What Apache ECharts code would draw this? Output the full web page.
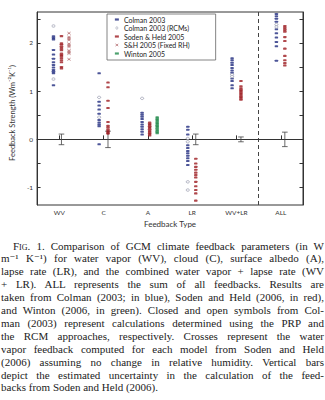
<!DOCTYPE html>
<html>
<head>
<meta charset="utf-8">
<script src="https://cdn.jsdelivr.net/npm/echarts@6/dist/echarts.min.js"></script>
<style>
html,body{margin:0;padding:0;background:#fff;}
#wrap{position:relative;width:325px;height:400px;overflow:hidden;}
#chart{position:absolute;left:0;top:0;width:325px;height:400px;}
#cap{position:absolute;left:1px;top:239.5px;width:323px;font-family:'Liberation Serif','DejaVu Serif',serif;font-size:11px;line-height:12.9px;color:#222;}
#cap .l{text-align:justify;text-align-last:justify;}
#cap .last{text-align-last:left;}
#cap .first{padding-left:12px;}
#cap .sc{font-variant:small-caps;}
</style>
</head>
<body>
<div id="wrap">
<div id="chart"></div>
<div id="cap">
<div class="l first"><span class="sc">Fig</span>. 1. Comparison of GCM climate feedback parameters (in W</div>
<div class="l">m⁻¹ K⁻¹) for water vapor (WV), cloud (C), surface albedo (A),</div>
<div class="l">lapse rate (LR), and the combined water vapor + lapse rate (WV</div>
<div class="l">+ LR). ALL represents the sum of all feedbacks. Results are</div>
<div class="l">taken from Colman (2003; in blue), Soden and Held (2006, in red),</div>
<div class="l">and Winton (2006, in green). Closed and open symbols from Col-</div>
<div class="l">man (2003) represent calculations determined using the PRP and</div>
<div class="l">the RCM approaches, respectively. Crosses represent the water</div>
<div class="l">vapor feedback computed for each model from Soden and Held</div>
<div class="l">(2006) assuming no change in relative humidity. Vertical bars</div>
<div class="l">depict the estimated uncertainty in the calculation of the feed-</div>
<div class="l last">backs from Soden and Held (2006).</div>
</div>
</div>
<script>
// ---- data ----
const categories = ['WV', 'C', 'A', 'LR', 'WV+LR', 'ALL'];
const yLabelValues = [-1, 0, 1, 2];
const yTickValues = [-1, -0.5, 0, 0.5, 1, 1.5, 2, 2.5];

// values per category (WV, C, A, LR, WV+LR, ALL)
const colman2003 = [
  [2.14, 2.10, 2.07, 1.85, 1.76, 1.67, 1.60, 1.54, 1.49, 1.44, 1.40, 1.37, 1.12],
  [1.37, 0.78, 0.70, 0.62, 0.53, 0.40, 0.35, 0.31, 0.27, -0.10],
  [0.55, 0.51, 0.47, 0.42, 0.36, 0.31, 0.26, 0.21, 0.16, 0.10],
  [0.26, 0.20, 0.10, -0.12, -0.18, -0.24, -0.29, -0.34, -0.39, -0.45, -0.53],
  [1.68, 1.64, 1.59, 1.54, 1.48, 1.43, 1.38, 1.26, 1.21, 1.12, 1.06],
  [2.60, 2.55, 2.50, 2.44, 2.28, 2.20, 2.11, 2.02, 1.93, 1.63]
];
const colman2003RCMs = [
  [2.35, 1.25],
  [0.87, 0.46],
  [0.85],
  [0.02, -0.05, -0.88, -1.05],
  [1.34, 1.30],
  [2.38, 2.33]
];
const sodenHeld2005 = [
  [2.14, 1.99, 1.96, 1.92, 1.89, 1.85, 1.78, 1.75, 1.72, 1.68, 1.64, 1.60, 1.50, 1.47],
  [1.18, 1.08, 0.80, 0.65, 0.36, 0.28, 0.24, 0.20, 0.17, 0.14, 0.12],
  [0.35, 0.32, 0.29, 0.26, 0.23, 0.20, 0.17, 0.14, 0.11, 0.08],
  [-0.40, -0.50, -0.57, -0.63, -0.69, -0.74, -0.79, -0.88, -0.97, -1.05, -1.12, -1.27],
  [1.21, 1.10, 1.06, 1.03, 1.00, 0.97, 0.94, 0.91, 0.88, 0.85, 0.82],
  [2.35, 2.31, 2.27, 2.23, 2.12, 2.04, 1.88, 1.73, 1.64, 1.58, 1.53]
];
const shFixedRH = [
  [2.20, 2.12, 2.09, 2.06, 1.98, 1.95, 1.92, 1.84, 1.81, 1.78, 1.66],
  [], [], [], [], []
];
const winton2005 = [
  [], [],
  [0.46, 0.43, 0.40, 0.37, 0.34, 0.31, 0.28, 0.25, 0.22, 0.19, 0.16, 0.13],
  [], [], []
];
const uncertainty = [0.11, 0.17, null, 0.11, 0.05, 0.15];

// ---- layout offsets (horizontal position of each column inside a category) ----
const offColman = [-0.13, -0.10, -0.13, -0.10, -0.10, -0.10];
const offSoden  = [0.05, 0.10, 0.04, 0.08, 0.10, 0.09];
const offCross  = [0.22, 0, 0, 0, 0, 0];
const offWinton = [0, 0, 0.21, 0, 0, 0];

function toPoints(arr, offs) {
  const out = [];
  arr.forEach((vals, i) => vals.forEach(v => out.push([i + 1 + offs[i], v])));
  return out;
}
const errData = [];
uncertainty.forEach((u, i) => { if (u !== null) errData.push([i + 1 + offSoden[i], -u, u]); });

const BLUE = '#1f2a7e', RED = '#9c1a1f', GREEN = '#1f8a4a', OPEN = '#8a8ea4', CROSS = '#9a3a3e', AX = '#333';
const FONT = 'Lato';
const CROSS_PATH = 'path://M0,0L10,8M10,0L0,8';

const chart = echarts.init(document.getElementById('chart'), null, {renderer: 'svg'});
chart.setOption({
  animation: false,
  textStyle: {fontFamily: FONT},
  grid: {left: 23, right: 22, top: 12, bottom: 195, show: true, borderColor: AX, borderWidth: 1},
  legend: {
    left: 107, top: 14, orient: 'vertical',
    itemWidth: 4, itemHeight: 2.2, itemGap: 0.5,
    padding: [1.5, 26, 2.5, 6],
    borderColor: '#666', borderWidth: 0.8,
    itemStyle: {borderWidth: 0},
    textStyle: {fontFamily: FONT, fontSize: 7, lineHeight: 8, color: '#222'},
    data: [
      {name: 'Colman 2003', icon: 'rect', itemStyle: {color: BLUE, borderWidth: 0}},
      {name: 'Colman 2003 (RCMs)', icon: 'circle', itemStyle: {color: '#fff', borderColor: OPEN, borderWidth: 0.7}},
      {name: 'Soden & Held 2005', icon: 'rect', itemStyle: {color: RED, borderWidth: 0}},
      {name: 'S&H 2005 (Fixed RH)', icon: CROSS_PATH, itemStyle: {color: 'none', borderColor: CROSS, borderWidth: 0.7}},
      {name: 'Winton 2005', icon: 'rect', itemStyle: {color: GREEN, borderWidth: 0}}
    ]
  },
  xAxis: [{
    type: 'value', min: 0.5, max: 6.5, position: 'bottom',
    axisLine: {show: true, lineStyle: {color: AX, width: 1}},
    axisTick: {show: true, inside: true, length: 4, customValues: [1, 2, 3, 4, 5, 6], lineStyle: {color: AX}},
    axisLabel: {show: true, customValues: [1, 2, 3, 4, 5, 6], fontSize: 6.5, color: '#333', margin: 4,
      formatter: v => categories[Math.round(v) - 1]},
    splitLine: {show: false},
    name: 'Feedback Type', nameLocation: 'middle', nameGap: 15,
    nameTextStyle: {fontSize: 8, color: '#333', fontFamily: FONT}
  }],
  yAxis: [{
    type: 'value', min: -1.36, max: 2.64, position: 'left',
    axisLine: {show: true, lineStyle: {color: AX, width: 1}},
    axisTick: {show: true, inside: true, length: 3.5, customValues: yTickValues, lineStyle: {color: AX}},
    axisLabel: {show: true, customValues: yLabelValues, fontSize: 6.5, color: '#333', margin: 4},
    splitLine: {show: false},
    name: 'Feedback Strength (Wm⁻²K⁻¹)', nameLocation: 'middle', nameGap: 12, nameRotate: 90,
    nameTextStyle: {fontSize: 7.5, color: '#333', fontFamily: FONT, padding: [0, 9, 0, 0]}
  }, {
    type: 'value', min: -1.36, max: 2.64, position: 'right',
    axisLine: {show: true, lineStyle: {color: AX, width: 1}},
    axisTick: {show: true, inside: true, length: 3.5, customValues: yTickValues, lineStyle: {color: AX}},
    axisLabel: {show: false},
    splitLine: {show: false}
  }],
  series: [
    {
      type: 'custom', name: 'uncertainty', z: 1,
      data: errData,
      renderItem: function (params, api) {
        const x = api.value(0);
        const pLo = api.coord([x, api.value(1)]);
        const pHi = api.coord([x, api.value(2)]);
        const w = 2.8;
        const st = {stroke: '#444', lineWidth: 0.8};
        return {type: 'group', children: [
          {type: 'line', shape: {x1: pLo[0], y1: pLo[1], x2: pHi[0], y2: pHi[1]}, style: st},
          {type: 'line', shape: {x1: pLo[0] - w, y1: pLo[1], x2: pLo[0] + w, y2: pLo[1]}, style: st},
          {type: 'line', shape: {x1: pHi[0] - w, y1: pHi[1], x2: pHi[0] + w, y2: pHi[1]}, style: st}
        ]};
      },
      markLine: {
        silent: true, symbol: 'none', label: {show: false}, z: 0,
        data: [
          {yAxis: 0, lineStyle: {color: '#8c8c8c', width: 1, type: 'solid'}},
          {xAxis: 5.5, lineStyle: {color: '#444', width: 1, type: [4, 3]}}
        ]
      }
    },
    {
      type: 'scatter', name: 'Colman 2003', z: 3,
      symbol: 'roundRect', symbolSize: [3.4, 2.0],
      itemStyle: {color: BLUE},
      data: toPoints(colman2003, offColman)
    },
    {
      type: 'scatter', name: 'Colman 2003 (RCMs)', z: 3,
      symbol: 'circle', symbolSize: [3.2, 2.4],
      itemStyle: {color: '#fff', borderColor: OPEN, borderWidth: 0.8},
      data: toPoints(colman2003RCMs, offColman)
    },
    {
      type: 'scatter', name: 'Soden & Held 2005', z: 3,
      symbol: 'roundRect', symbolSize: [3.4, 2.1],
      itemStyle: {color: RED},
      data: toPoints(sodenHeld2005, offSoden)
    },
    {
      type: 'scatter', name: 'S&H 2005 (Fixed RH)', z: 3,
      symbol: CROSS_PATH, symbolSize: [3.2, 2.4], symbolKeepAspect: false,
      itemStyle: {color: 'none', borderColor: CROSS, borderWidth: 0.7},
      data: toPoints(shFixedRH, offCross)
    },
    {
      type: 'scatter', name: 'Winton 2005', z: 3,
      symbol: 'roundRect', symbolSize: [3.4, 2.1],
      itemStyle: {color: GREEN},
      data: toPoints(winton2005, offWinton)
    }
  ]
});
</script>
</body>
</html>
